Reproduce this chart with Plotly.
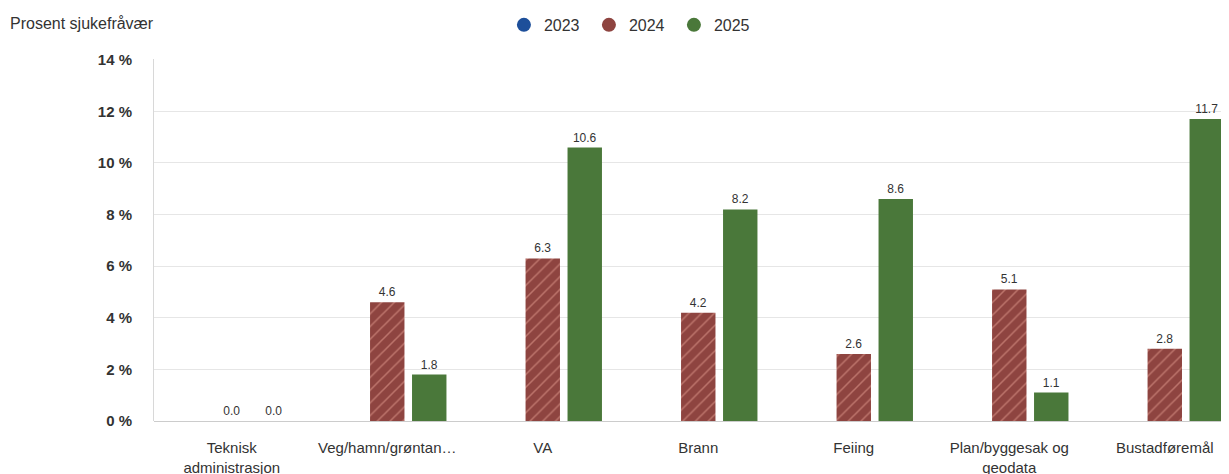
import plotly.graph_objects as go

categories = ["Teknisk<br>administrasjon", "Veg/hamn/grøntan…", "VA", "Brann", "Feiing",
              "Plan/byggesak og<br>geodata", "Bustadføremål"]
v2023 = [None, None, None, None, None, None, None]
v2024 = [0.0, 4.6, 6.3, 4.2, 2.6, 5.1, 2.8]
v2025 = [0.0, 1.8, 10.6, 8.2, 8.6, 1.1, 11.7]
y_ticks = [0, 2, 4, 6, 8, 10, 12, 14]
y_ticklabels = [f"{t} %" for t in y_ticks]

C2023 = "#1d4f9a"
C2024 = "#8e4440"
C2025 = "#4a783a"
FONT = "Liberation Sans, Arial, sans-serif"
TXT = "#333333"

fig = go.Figure()
fig.add_bar(x=categories, y=v2023, name="2023", marker_color=C2023, showlegend=False,
            texttemplate="%{y:.1f}", textposition="outside",
            textfont=dict(size=12, color=TXT, family=FONT), cliponaxis=False)
fig.add_bar(x=categories, y=v2024, name="2024", showlegend=False,
            marker=dict(color=C2024, line=dict(width=0),
                        pattern=dict(shape="/", fgcolor="rgba(240,170,155,0.95)", bgcolor=C2024,
                                     size=9, solidity=0.17, fillmode="overlay")),
            texttemplate="%{y:.1f}", textposition="outside",
            textfont=dict(size=12, color=TXT, family=FONT), cliponaxis=False)
fig.add_bar(x=categories, y=v2025, name="2025", showlegend=False,
            marker=dict(color=C2025, line=dict(width=0)),
            texttemplate="%{y:.1f}", textposition="outside",
            textfont=dict(size=12, color=TXT, family=FONT), cliponaxis=False)

for nm, col in [("2023", C2023), ("2024", C2024), ("2025", C2025)]:
    fig.add_scatter(x=[None], y=[None], mode="markers", name=nm,
                    marker=dict(symbol="circle", size=14, color=col))

fig.update_layout(
    width=1221, height=466, autosize=False,
    margin=dict(l=146, r=0, t=51, b=53, autoexpand=False),
    paper_bgcolor="white", plot_bgcolor="white",
    barmode="group", bargap=0.19, bargroupgap=0.18,
    font=dict(family=FONT, color=TXT),
    legend=dict(orientation="h", x=0.3255, xanchor="left", y=1.094, yanchor="middle",
                font=dict(size=16, color=TXT), itemwidth=30, entrywidth=40,
                traceorder="normal"),
    annotations=[dict(text="Prosent sjukefråvær", xref="paper", yref="paper",
                      x=-0.1355, y=1.0994, xanchor="left", yanchor="middle",
                      showarrow=False, font=dict(size=16, color=TXT, family=FONT))],
)
fig.update_xaxes(range=[-0.5, 6.413], showgrid=False, showline=False, ticks="",
                 automargin=False, ticklabelstandoff=16,
                 tickfont=dict(size=15, color=TXT, family=FONT))
fig.update_yaxes(range=[0, 14.03], tickvals=y_ticks, ticktext=[f"<b>{t}</b>" for t in y_ticklabels],
                 showgrid=True, gridcolor="#e6e6e6", gridwidth=1,
                 zeroline=True, zerolinecolor="#cccccc", zerolinewidth=1,
                 showline=True, linecolor="#d8d8d8", linewidth=1,
                 ticks="", ticklabelstandoff=18, automargin=False,
                 tickfont=dict(size=15, color=TXT, family=FONT))

fig.write_html("out.html")
